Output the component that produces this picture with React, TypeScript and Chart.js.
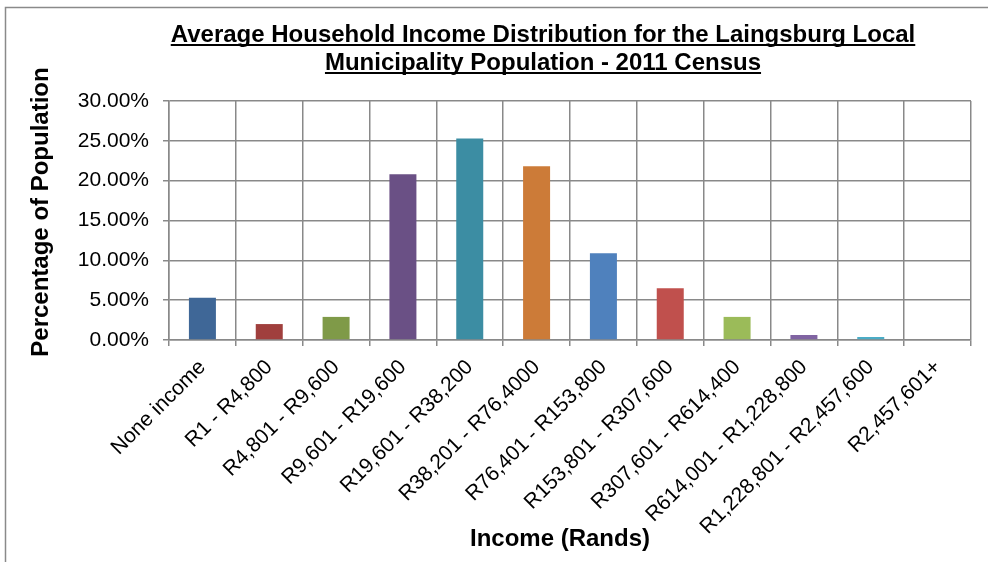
import React, { useEffect, useRef } from "react";
import { Chart, registerables } from "chart.js";

Chart.register(...registerables);

const TITLE_LINES = [
  "Average Household Income Distribution for the Laingsburg Local",
  "Municipality Population - 2011 Census",
];
const Y_TITLE = "Percentage of Population";
const X_TITLE = "Income (Rands)";

const categories = [
  "None income",
  "R1 - R4,800",
  "R4,801 - R9,600",
  "R9,601 - R19,600",
  "R19,601 - R38,200",
  "R38,201 - R76,4000",
  "R76,401 - R153,800",
  "R153,801 - R307,600",
  "R307,601 - R614,400",
  "R614,001 - R1,228,800",
  "R1,228,801 - R2,457,600",
  "R2,457,601+",
];
const percentages = [5.3, 2.0, 2.9, 20.8, 25.3, 21.8, 10.9, 6.5, 2.9, 0.63, 0.38, 0.0];
const barColors = [
  "#3F6797",
  "#A03F3D",
  "#7F9A48",
  "#6A5085",
  "#3C8DA3",
  "#CC7B38",
  "#4F81BD",
  "#C0504D",
  "#9BBB59",
  "#8064A2",
  "#4BACC6",
  "#F79646",
];

const FONT = "'Liberation Sans', Arial, sans-serif";
const GRID = "#898989";

const framePlugin = {
  id: "frame",
  beforeDraw(chart: any) {
    const ctx = chart.ctx;
    ctx.save();
    ctx.fillStyle = "#ffffff";
    ctx.fillRect(0, 0, chart.width, chart.height);
    ctx.strokeStyle = "#8a8a8a";
    ctx.lineWidth = 1.5;
    ctx.strokeRect(5.5, 7.5, chart.width + 50, chart.height + 50);
    ctx.restore();
  },
};

const titlePlugin = {
  id: "titles",
  afterDraw(chart: any) {
    const ctx = chart.ctx;
    ctx.save();
    ctx.font = `bold 24px ${FONT}`;
    ctx.fillStyle = "#000";
    ctx.strokeStyle = "#000";
    ctx.textAlign = "center";
    ctx.textBaseline = "alphabetic";
    const cx = 543;
    const baselines = [42, 70];
    TITLE_LINES.forEach((line, i) => {
      const y = baselines[i];
      ctx.fillText(line, cx, y);
      const w = ctx.measureText(line).width;
      ctx.lineWidth = 2;
      ctx.beginPath();
      ctx.moveTo(cx - w / 2, y + 3);
      ctx.lineTo(cx + w / 2, y + 3);
      ctx.stroke();
    });
    // x axis title
    ctx.fillText(X_TITLE, 560, 546);
    // y axis title
    ctx.translate(41, 212);
    ctx.rotate(-Math.PI / 2);
    ctx.textBaseline = "middle";
    ctx.fillText(Y_TITLE, 0, 0);
    ctx.restore();
  },
};

export default function App() {
  const ref = useRef<HTMLCanvasElement>(null);
  useEffect(() => {
    if (!ref.current) return;
    const chart = new Chart(ref.current, {
      type: "bar",
      data: {
        labels: categories,
        datasets: [
          {
            data: percentages,
            backgroundColor: barColors,
            borderWidth: 0,
            barPercentage: 0.404,
            categoryPercentage: 1,
          },
        ],
      },
      options: {
        animation: false,
        responsive: true,
        maintainAspectRatio: false,
        layout: { padding: { left: 0, right: 17, top: 101, bottom: 0 } },
        plugins: {
          legend: { display: false },
          title: { display: false },
          tooltip: { enabled: false },
        },
        scales: {
          x: {
            afterFit: (s: any) => {
              s.height = 222;
            },
            grid: {
              color: GRID,
              lineWidth: 1.5,
              offset: true,
              drawTicks: true,
              tickLength: 6,
            },
            border: { color: GRID, width: 1.5 },
            ticks: {
              color: "#000",
              font: { family: FONT, size: 21 },
              autoSkip: false,
              maxRotation: 45,
              minRotation: 45,
              padding: 9,
            },
          },
          y: {
            min: 0,
            max: 30,
            afterFit: (s: any) => {
              s.width = 169;
            },
            grid: {
              color: GRID,
              lineWidth: 1.5,
              drawTicks: true,
              tickLength: 6,
            },
            border: { color: GRID, width: 1.5 },
            ticks: {
              stepSize: 5,
              color: "#000",
              font: { family: FONT, size: 21 },
              padding: 14,
              callback: (v: any) => Number(v).toFixed(2) + "%",
            },
          },
        },
      },
      plugins: [framePlugin, titlePlugin],
    });
    return () => chart.destroy();
  }, []);
  return (
    <div
      style={{
        position: "absolute",
        left: 0,
        top: 0,
        width: 988,
        height: 562,
        overflow: "hidden",
        background: "#fff",
      }}
    >
      <canvas ref={ref} />
    </div>
  );
}
